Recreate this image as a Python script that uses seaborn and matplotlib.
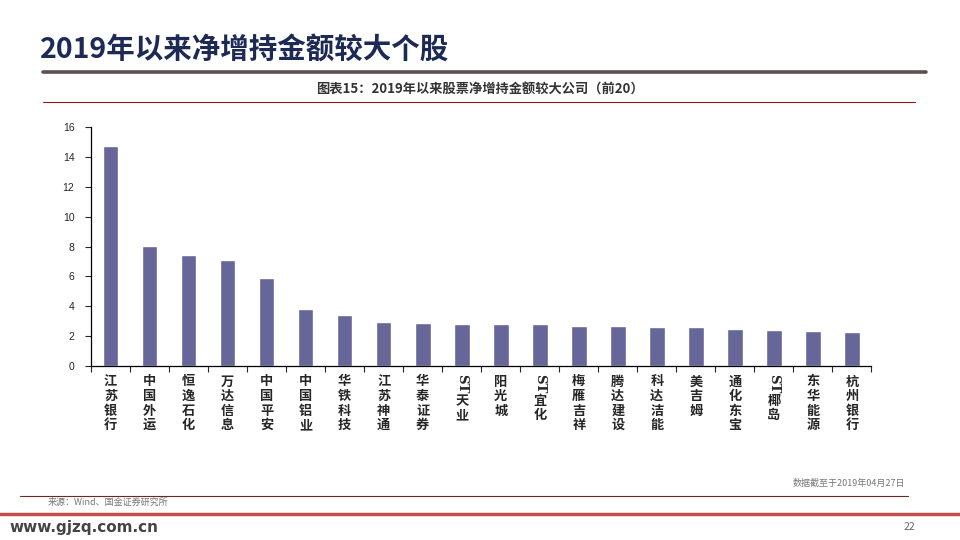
import matplotlib.pyplot as plt
import numpy as np
import seaborn as sns
from matplotlib.lines import Line2D

# data
stocks = ["江苏银行", "中国外运", "恒逸石化", "万达信息", "中国平安",
          "中国铝业", "华铁科技", "江苏神通", "华泰证券", "ST天业",
          "阳光城", "ST宜化", "梅雁吉祥", "腾达建设", "科达洁能",
          "美吉姆", "通化东宝", "ST椰岛", "东华能源", "杭州银行"]
amounts = [14.74, 8.03, 7.43, 7.09, 5.89, 3.81, 3.41, 2.94, 2.87, 2.80,
           2.80, 2.80, 2.67, 2.67, 2.60, 2.60, 2.47, 2.40, 2.34, 2.27]
y_ticks = [0, 2, 4, 6, 8, 10, 12, 14, 16]

sns.set_style("ticks")
plt.rcParams["font.family"] = ["Noto Sans CJK SC", "DejaVu Sans"]

BAR = "#666699"

fig = plt.figure(figsize=(9.6, 5.4), dpi=100)
ax = fig.add_axes([0.0948, 0.322, 0.813, 0.443])

sns.barplot(x=list(range(len(stocks))), y=amounts, color=BAR, width=0.4,
            saturation=1, ax=ax)

ax.set_xlim(-0.5, len(stocks) - 0.5)
ax.set_ylim(0, 16)
ax.set_yticks(y_ticks)
ax.set_yticklabels([str(v) for v in y_ticks], family=["Liberation Sans"],
                   fontsize=7.5)
ax.tick_params(axis="y", length=4, width=0.8, pad=8, direction="out")
ax.set_xticks(range(len(stocks)))
ax.set_xticklabels([])
ax.tick_params(axis="x", which="major", length=0)
ax.set_xticks(np.arange(-0.5, len(stocks)), minor=True)
ax.tick_params(axis="x", which="minor", length=4, width=0.8, direction="out")
ax.set_xlabel("")
ax.set_ylabel("")
sns.despine(ax=ax, top=True, right=True)
for s in ("left", "bottom"):
    ax.spines[s].set_color("black")
    ax.spines[s].set_linewidth(0.9)

# vertical stacked category labels
for i, name in enumerate(stocks):
    off = -6
    rest = name
    if name.startswith("ST"):
        ax.annotate("ST", xy=(i, 0), xycoords=("data", "axes fraction"),
                    xytext=(0, off), textcoords="offset points",
                    ha="center", va="top", rotation=-90, fontsize=9.5,
                    fontweight="bold", family=["DejaVu Serif"])
        off -= 14
        rest = name[2:]
    ax.annotate("\n".join(rest), xy=(i, 0), xycoords=("data", "axes fraction"),
                xytext=(0, off), textcoords="offset points",
                ha="center", va="top", fontsize=9.5, fontweight="bold",
                linespacing=1.05)

# page decoration
fig.text(0.042, 0.908, "2019年以来净增持金额较大个股", fontsize=20.5,
         fontweight="bold", color="#1C2A55", va="center", ha="left")
fig.add_artist(Line2D([0.045, 0.965], [0.867, 0.867], color="#5B524F",
                      lw=2.6, transform=fig.transFigure))
fig.text(0.5, 0.833, "图表15：2019年以来股票净增持金额较大公司（前20）",
         fontsize=9.5, fontweight="bold", color="#333333",
         ha="center", va="center")
fig.add_artist(Line2D([0.045, 0.953], [0.812, 0.812], color="#8B1A1A",
                      lw=0.8, transform=fig.transFigure))
fig.text(0.943, 0.106, "数据截至于2019年04月27日", fontsize=6.5,
         style="italic", color="#777777", ha="right", va="center")
fig.add_artist(Line2D([0.021, 0.946], [0.082, 0.082], color="#6B2A2A",
                      lw=0.8, transform=fig.transFigure))
fig.text(0.05, 0.069, "来源：Wind、国金证券研究所", fontsize=6.5,
         style="italic", color="#777777", ha="left", va="center")
fig.add_artist(Line2D([0.0, 1.0], [0.048, 0.048], color="#C0504D",
                      lw=2.5, transform=fig.transFigure))
fig.text(0.01, 0.024, "www.gjzq.com.cn", fontsize=11, fontweight="bold",
         color="#444444", ha="left", va="center", family=["DejaVu Sans"])
fig.text(0.953, 0.024, "22", fontsize=7.5, color="#666666",
         ha="right", va="center")

plt.savefig("out.png", dpi=100)
